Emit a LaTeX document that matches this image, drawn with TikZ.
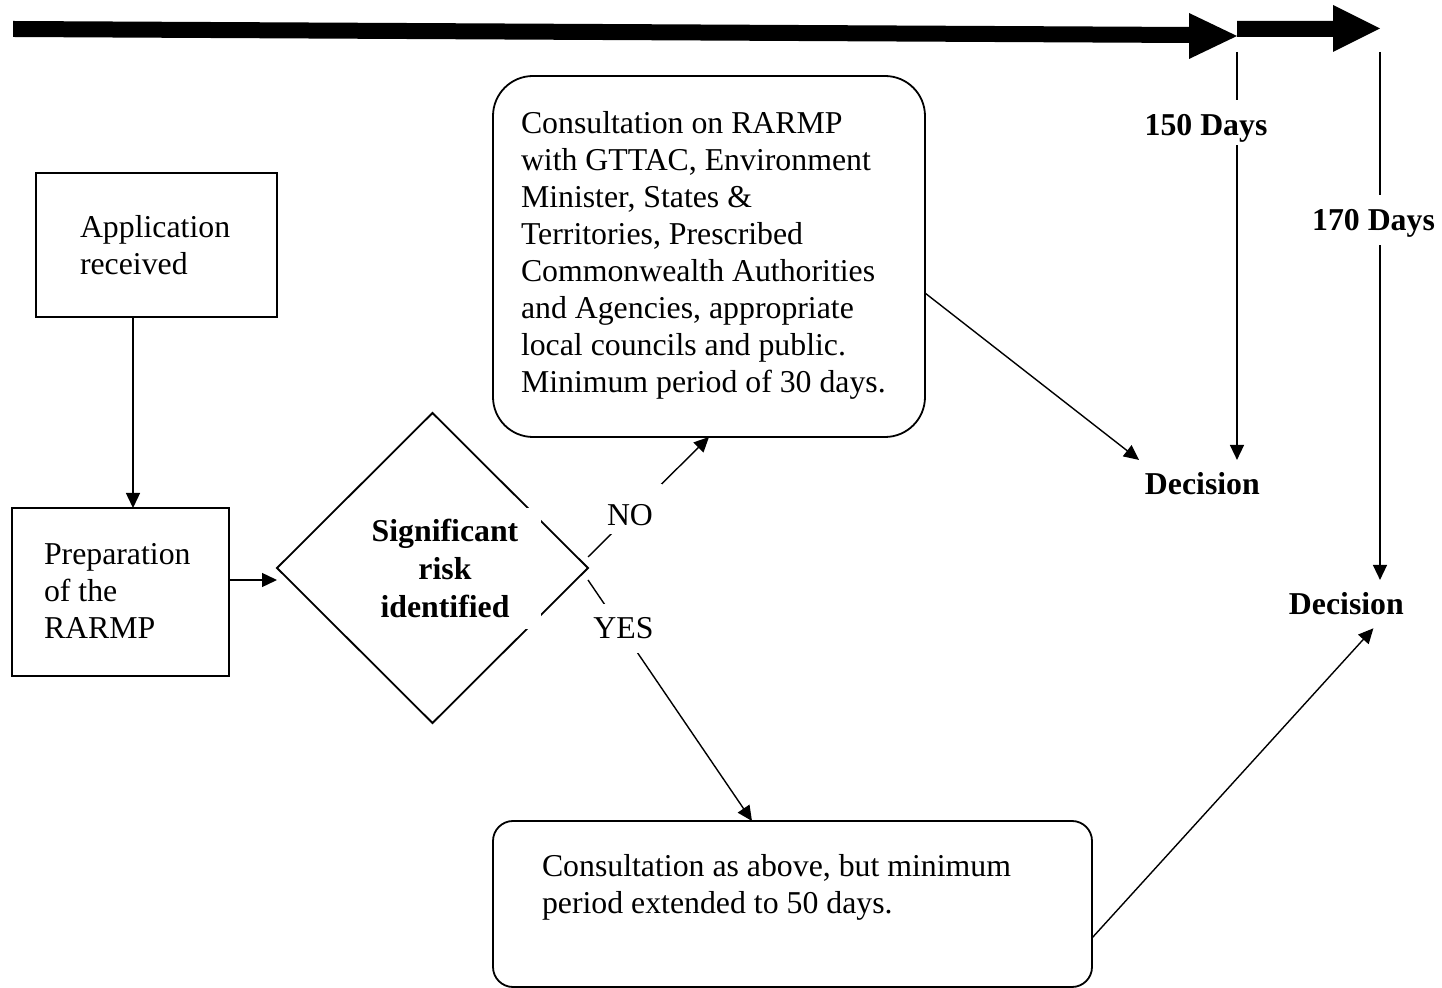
\documentclass[tikz,border=0pt]{standalone}
\usepackage{fontspec}
\setmainfont{Liberation Serif}
\usetikzlibrary{arrows.meta,shapes.geometric,calc}

\begin{document}
\begin{tikzpicture}[x=0.5pt,y=-0.5pt,
  every node/.style={inner sep=0pt, outer sep=0pt},
  body/.style={font=\fontsize{15.9pt}{18.5pt}\selectfont, align=left},
  heavy/.style={font=\fontsize{15.9pt}{19pt}\selectfont\bfseries},
  sqbox/.style={draw, line width=0.9pt, rectangle},
  conn/.style={line width=0.7pt, -{Triangle[length=7.5pt,width=7pt]}},
  blank/.style={fill=white},
  verdict/.style={heavy, inner sep=6.5pt}
]
\useasboundingbox (0,0) rectangle (1442,988);

% ---- timeline bar with its two arrow heads ----
\coordinate (t150) at (1237,52);
\coordinate (t170) at (1380,52);
\fill (13,21) -- (1189,27) -- (1189,13) -- (1237,36) -- (1189,59) -- (1189,43) -- (13,37) -- cycle;
\fill (1237,21) -- (1333,21) -- (1333,5) -- (1380,28.5) -- (1333,52) -- (1333,37) -- (1237,37) -- cycle;

% ---- boxes ----
\node[sqbox, minimum width=120.5pt, minimum height=72pt] (app) at (156.5,245) {};
\node[body, anchor=north west] (apptext) at (80,215) {Application\\received};

\node[sqbox, minimum width=108.5pt, minimum height=84pt] (prep) at (120.5,592) {};
\node[body, anchor=north west] (preptext) at (44,543) {Preparation\\of the\\RARMP};

\node[draw, diamond, line width=0.9pt, minimum width=155.5pt, minimum height=155pt] (dia) at (432.5,568) {};
\node[heavy, blank, align=center, minimum width=95.5pt, minimum height=60.5pt] (diatext) at (445,568.5)
  {Significant\\risk\\identified};

\node[sqbox, rounded corners=20pt, minimum width=216pt, minimum height=180.5pt] (c1) at (709,256.5) {};
\node[body, anchor=north west] (c1text) at (521,111)
  {Consultation on RARMP\\with GTTAC, Environment\\Minister, States \&\\Territories, Prescribed\\Commonwealth Authorities\\and Agencies, appropriate\\local councils and public.\\Minimum period of 30 days.};

\node[sqbox, rounded corners=10pt, minimum width=299.5pt, minimum height=83pt] (c2) at (792.5,904) {};
\node[body, anchor=north west] (c2text) at (542,854)
  {Consultation as above, but minimum\\period extended to 50 days.};

% ---- decisions ----
\node[verdict, anchor=base] (dec1) at (1202.4,495) {Decision};
\node[verdict, anchor=base] (dec2) at (1346.4,615) {Decision};

% ---- connectors ----
\draw[conn] ($(app.south)+(-23.5,0)$) -- ($(prep.north)+(12.5,0)$);
\draw[conn] ($(prep.east)+(0,-12)$) -- ($(dia.west)+(0,12)$);
\draw[conn] ($(dia.east)+(0,-11)$) -- (c1.south);
\draw[conn] ($(dia.east)+(0,12)$) -- ($(c2.north)+(-40.5,0)$);
\draw[conn] ($(c1.east)+(0,36.5)$) -- ($(dec1.north west)+(7,0)$);
\draw[conn] ($(c2.east)+(0,34)$) -- ($(dec2.south)+(27,0)$);
\draw[conn] (t150) -- (t150 |- dec1.north);
\draw[conn] (t170) -- (t170 |- dec2.north);

% ---- labels sitting on the lines (fixed box heights mask the lines) ----
\node[body, blank, anchor=base, minimum width=32pt, text height=21pt, text depth=4pt] (no) at (630,526) {NO};
\node[body, blank, anchor=base, minimum width=31pt, text height=17.5pt, text depth=7pt] (yes) at (623.5,639) {YES};
\node[heavy, blank, anchor=base, inner xsep=1pt, text height=18pt, text depth=4.5pt] (d150) at (1206,136) {150 Days};
\node[heavy, blank, anchor=base, inner xsep=1pt, text height=18pt, text depth=7pt] (d170) at (1373.5,231) {170 Days};
\end{tikzpicture}
\end{document}
